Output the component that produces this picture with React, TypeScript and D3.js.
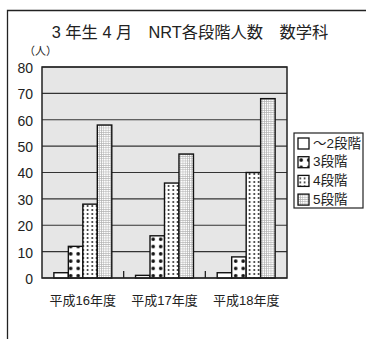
import React from 'react';
import * as d3 from 'd3';

const categories = ['平成16年度', '平成17年度', '平成18年度'];
const seriesNames = ['～2段階', '3段階', '4段階', '5段階'];
const values = [
  [2, 1, 2],
  [12, 16, 8],
  [28, 36, 40],
  [58, 47, 68],
];
const yTicks = [0, 10, 20, 30, 40, 50, 60, 70, 80];
const patterns = ['none', 'bigDots', 'smallDots', 'fineGrid'];

const font = '"Liberation Sans", "Noto Sans CJK JP", sans-serif';

const App = () => {
  const width = 366;
  const height = 339;
  const plot = { left: 42, right: 287, top: 67, bottom: 278 };

  const x = d3.scaleBand().domain(categories).range([plot.left, plot.right]);
  const inner = d3
    .scaleBand()
    .domain(seriesNames)
    .range([0, x.bandwidth()])
    .paddingOuter(0.82)
    .paddingInner(0);
  const y = d3.scaleLinear().domain([0, 80]).range([plot.bottom, plot.top]);

  const fillFor = (i) => (patterns[i] === 'none' ? '#fff' : `url(#${patterns[i]})`);

  const legendX = 294;
  const legendY = 133;

  return (
    <svg width={width} height={height} style={{ position: 'absolute', left: 0, top: 0 }}>
      <defs>
        <pattern id="bigDots" width={7.5} height={7.3} patternUnits="userSpaceOnUse" x={-0.5} y={2}>
          <rect width={7.5} height={7.3} fill="#fff" />
          <circle cx={3.7} cy={3.6} r={1.8} fill="#111" />
        </pattern>
        <pattern id="smallDots" width={4.5} height={4} patternUnits="userSpaceOnUse">
          <rect width={4.5} height={4} fill="#fff" />
          <circle cx={2.2} cy={2} r={0.9} fill="#111" />
        </pattern>
        <pattern id="fineGrid" width={2.2} height={2.2} patternUnits="userSpaceOnUse">
          <rect width={2.2} height={2.2} fill="#fff" />
          <rect width={2.2} height={0.6} fill="#b0b0b0" />
          <rect width={0.6} height={2.2} fill="#b0b0b0" />
        </pattern>
      </defs>

      {/* outer frame */}
      <path d={`M7.5,${height} V10.5 H${width}`} fill="none" stroke="#222" strokeWidth={1.3} />

      <text x={190} y={38} textAnchor="middle" fontFamily={font} fontSize={16.3} fill="#222">
        3 年生 4 月　NRT各段階人数　数学科
      </text>
      <text x={24} y={55} fontFamily={font} fontSize={11} fill="#222">
        （人）
      </text>

      <rect
        x={plot.left}
        y={plot.top}
        width={plot.right - plot.left}
        height={plot.bottom - plot.top}
        fill="#e6e6e6"
      />
      {yTicks.map((t) => (
        <g key={t}>
          <line x1={plot.left} x2={plot.right} y1={y(t)} y2={y(t)} stroke="#333" strokeWidth={1.2} />
          <text
            x={33}
            y={y(t) + 1}
            dy="0.35em"
            textAnchor="end"
            fontFamily={font}
            fontSize={14}
            fill="#222"
          >
            {t}
          </text>
        </g>
      ))}

      {categories.slice(1).map((c) => (
        <line
          key={c}
          x1={x(c)}
          x2={x(c)}
          y1={plot.bottom}
          y2={plot.bottom - 7}
          stroke="#222"
          strokeWidth={1.3}
        />
      ))}

      {values.map((row, si) =>
        row.map((v, ci) => (
          <rect
            key={`${si}-${ci}`}
            x={x(categories[ci]) + inner(seriesNames[si])}
            y={y(v)}
            width={inner.bandwidth()}
            height={plot.bottom - y(v)}
            fill={fillFor(si)}
            stroke="#111"
            strokeWidth={1.4}
          />
        ))
      )}

      <rect
        x={plot.left}
        y={plot.top}
        width={plot.right - plot.left}
        height={plot.bottom - plot.top}
        fill="none"
        stroke="#222"
        strokeWidth={1.5}
      />

      {categories.map((c) => (
        <text
          key={c}
          x={x(c) + x.bandwidth() / 2}
          y={305}
          textAnchor="middle"
          fontFamily={font}
          fontSize={13}
          fill="#222"
        >
          {c}
        </text>
      ))}

      <rect x={legendX} y={legendY} width={69} height={75} fill="#fff" stroke="#222" strokeWidth={1.2} />
      {seriesNames.map((s, i) => (
        <g key={s} transform={`translate(${legendX + 4},${legendY + 10 + i * 18.7})`}>
          <rect x={0} y={-5} width={11} height={11} fill={fillFor(i)} stroke="#111" strokeWidth={1.3} />
          <text x={15} y={0} dy="0.35em" fontFamily={font} fontSize={13.5} fill="#222">
            {s}
          </text>
        </g>
      ))}
    </svg>
  );
};

export default App;
